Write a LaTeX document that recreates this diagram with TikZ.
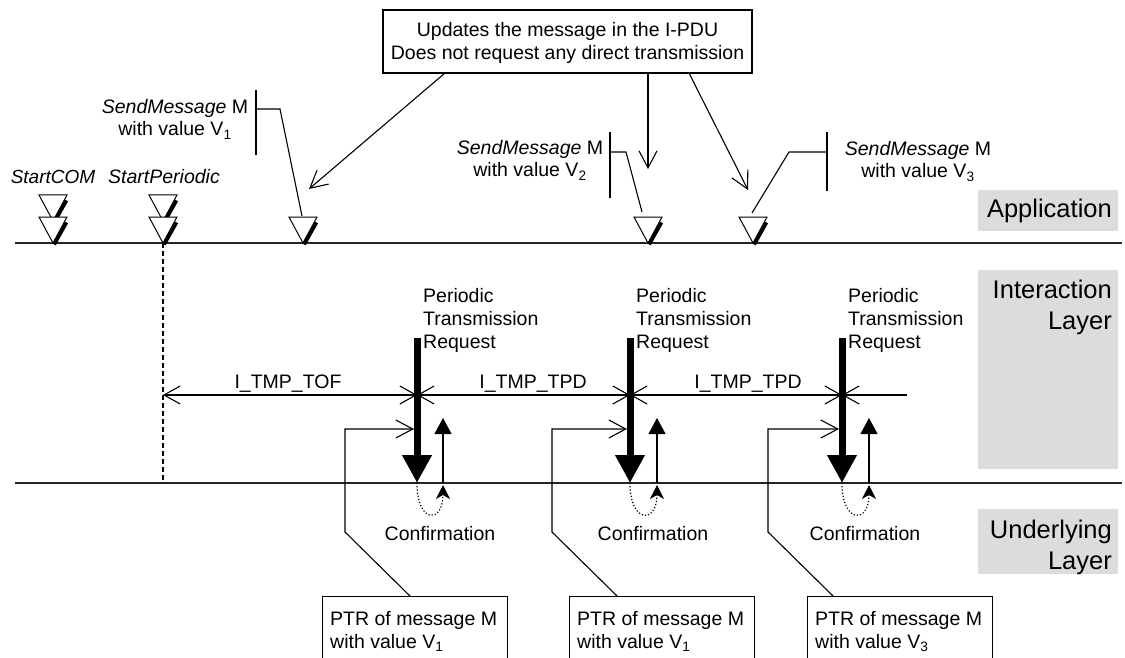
\documentclass[tikz,border=0pt]{standalone}
\usepackage{fontspec}
\setmainfont{Liberation Sans}
\usetikzlibrary{arrows.meta}
\definecolor{lyr}{HTML}{DCDCDC}
\newcommand\sendtri[2]{%
  \filldraw[fill=white,draw=black,line width=1pt] (#1-14,#2-26) -- (#1+14,#2-26) -- (#1,#2) -- cycle;
  \draw[line width=3.5pt] (#1+13.5,#2-20.5) -- (#1+1.2,#2+1.5);
}
\begin{document}
\begin{tikzpicture}[x=1pt,y=-1pt,
  txt/.style={font=\fontsize{19.5}{23}\selectfont, inner sep=0pt},
  boxtxt/.style={font=\fontsize{19.5}{23}\selectfont, inner sep=0pt, anchor=base},
  lyrlbl/.style={font=\fontsize{25.5}{30}\selectfont, inner sep=0pt, anchor=base east},
  thin/.style={line width=1.1pt},
  layerline/.style={line width=1.4pt, draw=black!85},
  barb/.style={thin,-{Straight Barb[length=17pt,width=18pt]}},
  dimline/.style={thin,{Straight Barb[length=16pt,width=18pt]}-{Straight Barb[length=16pt,width=18pt]}},
  ptrarrow/.style={line width=7pt,-{Triangle[length=28pt,width=28pt]}},
  confarrow/.style={thin,-{Triangle[length=16pt,width=17pt]}},
  loopback/.style={line width=1.2pt,dotted,-{Stealth[length=14pt,width=14pt,inset=4pt]}},
  calloutbox/.style={draw,thin,minimum width=185,minimum height=80,anchor=north west,inner sep=0pt}
]
\useasboundingbox (0,0) rectangle (1125,658);
\clip (0,0) rectangle (1125,658);

% layer labels
\fill[lyr] (978,190) rectangle (1118,231);
\fill[lyr] (978,270) rectangle (1118,469);
\fill[lyr] (978,509) rectangle (1118,574);
\node[lyrlbl] (lapp) at (1112,217) {Application};
\node[lyrlbl] (lint1) at (1112,298) {Interaction};
\node[lyrlbl] (lint2) at (1112,329) {Layer};
\node[lyrlbl] (lund1) at (1112,538) {Underlying};
\node[lyrlbl] (lund2) at (1112,569) {Layer};

% layer lines
\coordinate (appL) at (15,243);
\coordinate (appR) at (1122,243);
\coordinate (undL) at (15,483);
\coordinate (undR) at (1122,483);
\draw[layerline] (appL) -- (appR);
\draw[layerline] (undL) -- (undR);

% dashed start line
\coordinate (sp) at (163,243);
\coordinate (spb) at (163,483);
\draw[thin,dash pattern=on 5pt off 3pt] (sp) -- (spb);

% triangles
\sendtri{53}{221}
\sendtri{53}{243}
\sendtri{163}{221}
\sendtri{163}{243}
\sendtri{303}{243}
\sendtri{648}{243}
\sendtri{753}{243}

\node[txt,anchor=base,font=\fontsize{19}{23}\selectfont\itshape] (scom) at (53,183) {StartCOM};
\node[txt,anchor=base,font=\fontsize{19.5}{23}\selectfont\itshape] (sper) at (164,183) {StartPeriodic};

% top box
\node[draw,thin,minimum width=369,minimum height=63,inner sep=0pt] (upd) at (567.5,41.5) {};
\node[boxtxt] (upd1) at (567.5,37) {Updates the message in the I-PDU};
\node[boxtxt] (upd2) at (567.5,60) {Does not request any direct transmission};
\coordinate (a1s) at (445,73);
\coordinate (a1e) at (309,189);
\coordinate (a2s) at (648,73);
\coordinate (a2e) at (648,169);
\coordinate (a3s) at (689,73);
\coordinate (a3e) at (748,190);
\draw[barb] (a1s) -- (a1e);
\draw[barb] (a2s) -- (a2e);
\draw[barb] (a3s) -- (a3e);

% SendMessage labels
\node[txt,anchor=base] (sm1a) at (175,114) {\textit{SendMessage} M};
\node[txt,anchor=base] (sm1b) at (175,136) {with value V\textsubscript{1}};
\node[txt,anchor=base] (sm2a) at (530,155) {\textit{SendMessage} M};
\node[txt,anchor=base] (sm2b) at (530,177) {with value V\textsubscript{2}};
\node[txt,anchor=base] (sm3a) at (918,156) {\textit{SendMessage} M};
\node[txt,anchor=base] (sm3b) at (918,178) {with value V\textsubscript{3}};

% brackets
\coordinate (br1t) at (256,90);
\coordinate (br1b) at (256,155);
\draw[thin] (br1t) -- (br1b);
\coordinate (br1m) at (256,109);
\coordinate (br1e) at (302,216);
\draw[thin] (br1m) -- (280,109) -- (br1e);
\coordinate (br2t) at (610,132);
\coordinate (br2b) at (610,198);
\draw[thin] (br2t) -- (br2b);
\coordinate (br2m) at (610,152);
\coordinate (br2e) at (642,212);
\draw[thin] (br2m) -- (626,152) -- (br2e);
\coordinate (br3t) at (827,132);
\coordinate (br3b) at (827,191);
\draw[thin] (br3t) -- (br3b);
\coordinate (br3m) at (827,152);
\coordinate (br3e) at (752,213);
\draw[thin] (br3m) -- (789,152) -- (br3e);

% periodic transmission requests
\foreach \n/\x in {1/417,2/630,3/842}{
  \coordinate (p\n t) at (\x,338);
  \coordinate (p\n b) at (\x,483);
  \draw[ptrarrow] (p\n t) -- (p\n b);
}
\foreach \n/\x in {1/423,2/636,3/848}{
  \node[txt,anchor=base west] (ptra\n) at (\x,302) {Periodic};
  \node[txt,anchor=base west] (ptrb\n) at (\x,325) {Transmission};
  \node[txt,anchor=base west] (ptrc\n) at (\x,348) {Request};
}

% dimension line
\coordinate (d0) at (163,395);
\coordinate (d1) at (417,395);
\coordinate (d2) at (630,395);
\coordinate (d3) at (842,395);
\coordinate (d4) at (907,395);
\draw[dimline] (d0) -- (d1);
\draw[dimline] (d1) -- (d2);
\draw[dimline] (d2) -- (d3);
\draw[thin,{Straight Barb[length=16pt,width=18pt]}-] (d3) -- (d4);
\node[txt,anchor=base] (tof) at (288,388) {I\_TMP\_TOF};
\node[txt,anchor=base] (tpd1) at (533,388) {I\_TMP\_TPD};
\node[txt,anchor=base] (tpd2) at (748,388) {I\_TMP\_TPD};

% confirmations
\foreach \n/\x in {1/443,2/657,3/869}{
  \coordinate (c\n b) at (\x,483);
  \coordinate (c\n t) at (\x,418);
  \coordinate (c\n l) at (\x,485);
  \draw[confarrow] (c\n b) -- (c\n t);
}
\draw[loopback] (p1b) .. controls (417,524) and (443,524) .. (c1l);
\draw[loopback] (p2b) .. controls (630,524) and (657,524) .. (c2l);
\draw[loopback] (p3b) .. controls (842,524) and (869,524) .. (c3l);
\node[txt,anchor=base] (conf1) at (440,540) {Confirmation};
\node[txt,anchor=base] (conf2) at (653,540) {Confirmation};
\node[txt,anchor=base] (conf3) at (865,540) {Confirmation};

% PTR boxes and callouts
\node[calloutbox] (ptr1) at (322,596) {};
\node[calloutbox] (ptr2) at (569,596) {};
\node[calloutbox] (ptr3) at (807,596) {};
\node[txt,anchor=base west] (ptr1a) at (330,625) {PTR of message M};
\node[txt,anchor=base west] (ptr1b) at (330,648) {with value V\textsubscript{1}};
\node[txt,anchor=base west] (ptr2a) at (577,625) {PTR of message M};
\node[txt,anchor=base west] (ptr2b) at (577,648) {with value V\textsubscript{1}};
\node[txt,anchor=base west] (ptr3a) at (815,625) {PTR of message M};
\node[txt,anchor=base west] (ptr3b) at (815,648) {with value V\textsubscript{3}};
\coordinate (q1) at (410,596);
\coordinate (q1e) at (414,429);
\draw[barb] (q1) -- (345,532) -- (345,429) -- (q1e);
\coordinate (q2) at (617,596);
\coordinate (q2e) at (627,429);
\draw[barb] (q2) -- (552,532) -- (552,429) -- (q2e);
\coordinate (q3) at (833,596);
\coordinate (q3e) at (839,429);
\draw[barb] (q3) -- (768,532) -- (768,429) -- (q3e);
\end{tikzpicture}
\end{document}
